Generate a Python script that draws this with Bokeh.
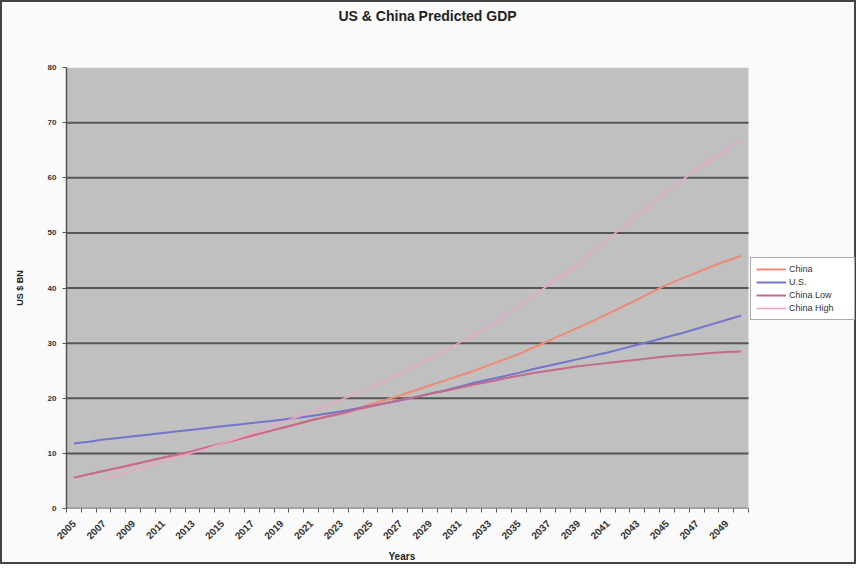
import math
from bokeh.plotting import figure
from bokeh.models import ColumnDataSource, FixedTicker, Legend, LegendItem, Title
from bokeh.embed import file_html
from bokeh.resources import INLINE

NAN = float("nan")

years = list(range(2005, 2051))

china = [5.6, 6.2, 6.8, 7.4, 8.0, 8.6, 9.2, 9.8, 10.4, 11.1,
         11.8, 12.5, 13.2, 13.9, 14.6, 15.3, 16.0, 16.7, 17.4, 18.1,
         18.9, 19.7, 20.5, 21.4, 22.3, 23.2, 24.1, 25.0, 26.0, 27.0,
         28.0, 29.2, 30.4, 31.6, 32.8, 34.0, 35.3, 36.6, 37.9, 39.3,
         40.6, 41.7, 42.8, 43.9, 44.9, 45.8]

us = [11.8, 12.1, 12.5, 12.8, 13.1, 13.4, 13.7, 14.0, 14.3, 14.6,
      14.9, 15.2, 15.5, 15.8, 16.1, 16.4, 16.8, 17.2, 17.6, 18.1,
      18.6, 19.1, 19.6, 20.2, 20.8, 21.4, 22.1, 22.8, 23.4, 24.0,
      24.6, 25.3, 25.9, 26.5, 27.1, 27.7, 28.3, 29.0, 29.7, 30.4,
      31.1, 31.8, 32.6, 33.4, 34.2, 35.0]

china_low = [5.6, 6.2, 6.8, 7.4, 8.0, 8.6, 9.2, 9.8, 10.4, 11.1,
             11.8, 12.5, 13.2, 13.9, 14.6, 15.3, 16.0, 16.6, 17.2, 17.9,
             18.5, 19.1, 19.7, 20.2, 20.8, 21.3, 21.9, 22.5, 23.0, 23.6,
             24.1, 24.6, 25.0, 25.4, 25.8, 26.1, 26.4, 26.7, 27.0, 27.3,
             27.6, 27.8, 28.0, 28.2, 28.4, 28.5]

china_high = [NAN, NAN, 5.4, 6.1, 6.9, 7.7, 8.5, 9.3, 10.1, 10.9,
              11.8, 12.7, 13.6, 14.5, 15.5, 16.5, 17.5, 18.6, 19.7, 20.8,
              22.0, 23.2, 24.5, 25.8, 27.2, 28.6, 30.1, 31.6, 33.2, 34.9,
              36.7, 38.6, 40.5, 42.4, 44.4, 46.6, 48.8, 51.0, 53.2, 55.3,
              57.4, 59.5, 61.5, 63.4, 65.2, 67.0]

series_names = ["China", "U.S.", "China Low", "China High"]
series_colors = ["#ef8a74", "#7474cc", "#c46a8c", "#eaa6c8"]

tick_years = list(range(2005, 2050, 2))
y_ticks = [0, 10, 20, 30, 40, 50, 60, 70, 80]

FONT = "Liberation Sans"

# plot-area bounds (category edges)
x_lo = years[0] - 0.5
x_hi = years[-1] + 0.5
# extra room on the right of the plot area, inside the frame, for the legend
x_extra = 7.42

p = figure(width=856, height=564, output_backend="svg", toolbar_location=None,
           x_range=(x_lo, x_hi + x_extra), y_range=(y_ticks[0], y_ticks[-1]),
           min_border_left=64, min_border_right=0,
           min_border_top=65, min_border_bottom=58)

p.background_fill_color = "#fafafa"
p.border_fill_color = "#fafafa"
p.outline_line_color = None
p.styles = {"border": "2px solid #444444"}

# titles: spacer nearest the frame, then the real title above it
p.title.text = ""
spacer = Title(text=" ", text_font=FONT, text_font_size="20px", standoff=20)
p.add_layout(spacer, "above")
main_title = Title(text="US & China Predicted GDP", text_font=FONT, text_font_size="14px",
                   text_font_style="bold", text_color="#222222", align="left", offset=272,
                   standoff=0)
p.add_layout(main_title, "above")

# gray plot area and grid lines
p.quad(left=x_lo, right=x_hi, bottom=y_ticks[0], top=y_ticks[-1],
       fill_color="#c0c0c0", line_color=None, level="underlay")
grid_y = y_ticks[1:-1]
p.segment(x0=[x_lo] * len(grid_y), x1=[x_hi] * len(grid_y), y0=grid_y, y1=grid_y,
          line_color="#4a4a4a", line_width=2, line_alpha=0.9, level="underlay")
# x-axis baseline over the plot area
p.segment(x0=[x_lo], x1=[x_hi], y0=[y_ticks[0]], y1=[y_ticks[0]],
          line_color="#555555", line_width=1.5)

src = ColumnDataSource(dict(x=years, china=china, us=us, low=china_low, high=china_high))

renderers = []
for col, name, color, w in zip(["china", "us", "low", "high"], series_names, series_colors, [2, 2, 2, 1.6]):
    r = p.line("x", col, source=src, line_color=color, line_width=w)
    renderers.append(r)

# axes
p.xaxis.ticker = FixedTicker(ticks=tick_years, minor_ticks=[y - 0.5 for y in years] + [x_hi])
p.xaxis.major_label_overrides = {y: str(y) for y in tick_years}
p.xaxis.major_label_orientation = math.pi / 4
p.xaxis.major_tick_out = 0
p.xaxis.major_tick_in = 0
p.xaxis.minor_tick_out = 4
p.xaxis.minor_tick_in = 0
p.xaxis.axis_line_color = None

p.yaxis.ticker = FixedTicker(ticks=y_ticks)
p.yaxis.minor_tick_line_color = None
p.yaxis.major_tick_out = 4
p.yaxis.major_tick_in = 0
p.yaxis.axis_label = "US $ BN"
p.yaxis.axis_line_color = "#555555"
p.yaxis.axis_line_width = 1.5

for ax in (p.xaxis[0], p.yaxis[0]):
    ax.major_tick_line_color = "#555555"
    ax.major_label_text_font = FONT
    ax.major_label_text_font_style = "bold"
    ax.major_label_text_color = "#333333"
    ax.axis_label_text_font = FONT
    ax.axis_label_text_font_size = "9px"
    ax.axis_label_text_font_style = "bold"
    ax.axis_label_text_color = "#222222"
p.xaxis.minor_tick_line_color = "#555555"
p.xaxis.major_label_text_font_size = "10px"
p.xaxis.major_label_standoff = 9
p.yaxis.major_label_text_font_size = "8px"
p.yaxis.major_label_standoff = 6
p.yaxis.axis_label_standoff = 20

p.xgrid.grid_line_color = None
p.ygrid.grid_line_color = None

# x-axis title, positioned under the plot area
xt = Title(text="Years", align="left", offset=322, text_font=FONT, text_font_size="10px",
           text_font_style="bold", text_color="#222222", standoff=7)
p.add_layout(xt, "below")

legend = Legend(items=[LegendItem(label=n, renderers=[r]) for n, r in zip(series_names, renderers)],
                location=(684, 188))
legend.label_text_font = FONT
legend.label_text_font_size = "9px"
legend.label_text_color = "#333333"
legend.background_fill_color = "#ffffff"
legend.border_line_color = "#555555"
legend.border_line_width = 1.5
legend.glyph_width = 30
legend.glyph_height = 12
legend.label_height = 12
legend.label_width = 60
legend.spacing = 1
legend.padding = 5
legend.margin = 0
legend.label_standoff = 3
p.add_layout(legend, "center")

open("out.html", "w").write(file_html(p, INLINE))
